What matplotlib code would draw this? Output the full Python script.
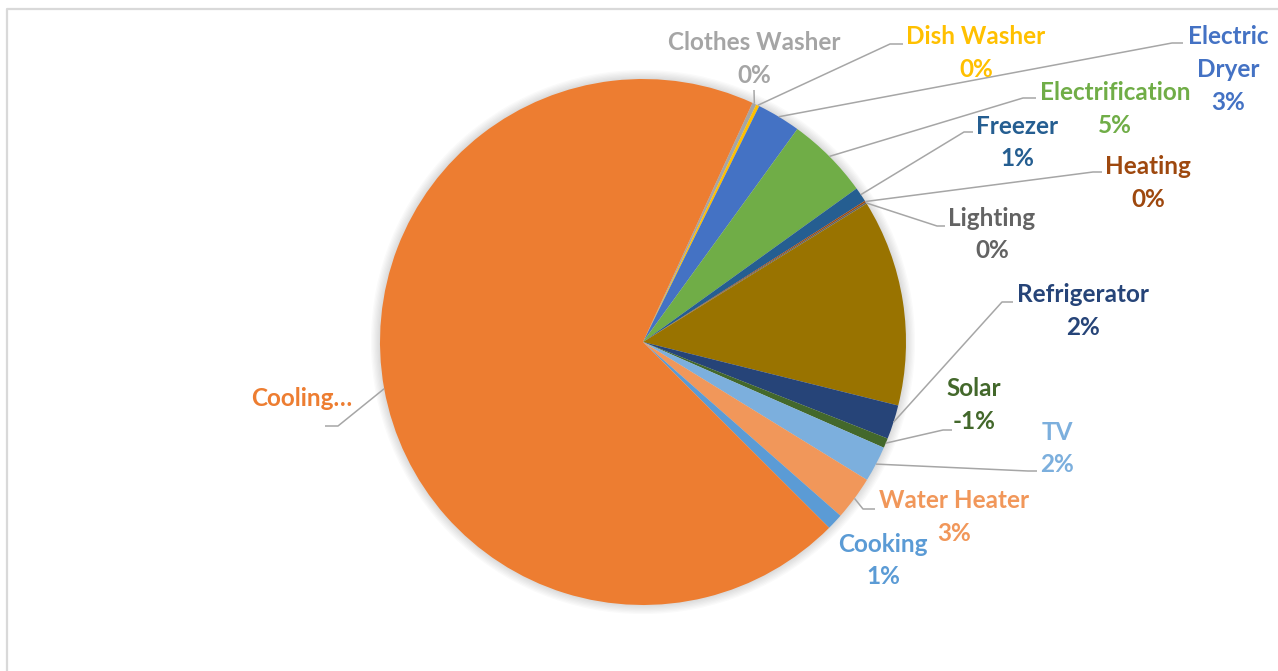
import matplotlib
matplotlib.use('Agg')
import matplotlib.pyplot as plt
from matplotlib.patches import Circle
import numpy as np

plt.rcParams['font.family'] = ['Lato', 'DejaVu Sans']

# appliance shares of the load (%); the olive slice has no label in the source
categories = ['Clothes Washer', 'Dish Washer', 'Electric Dryer', 'Electrification', 'Freezer',
              'Heating', 'Lighting', '', 'Refrigerator', 'Solar', 'TV', 'Water Heater',
              'Cooking', 'Cooling']
values = [0.25, 0.2, 2.7, 5.1, 0.9, 0.1, 0.1, 12.7, 2.1, -0.6, 2.2, 2.7, 1.0, 69.35]
slice_colors = ['#A5A5A5', '#FFC000', '#4472C4', '#70AD47', '#255E91', '#9E480E', '#636363',
                '#997300', '#264478', '#43682B', '#7CAFDD', '#F1975A', '#5B9BD5', '#ED7D31']
display_names = {'Electric Dryer': 'Electric\nDryer', 'Cooling': 'Cooling\u2026'}

W, H = 1278, 671
def Y(y):
    return H - y

# label layout in pixels (top-left origin): x centre, first line centre, leader elbow, leader end
layout = {
    'Clothes Washer': (754, 42, (754, 90), (754, 90)),
    'Dish Washer': (976, 36, (890, 44), (903, 44)),
    'Electric Dryer': (1228, 36, (1172, 43), (1183, 43)),
    'Electrification': (1115, 92, (1023, 98), (1036, 98)),
    'Freezer': (1017, 125, (964, 132), (973, 132)),
    'Heating': (1148, 166, (1093, 172), (1102, 172)),
    'Lighting': (992, 217, (937, 226), (945, 226)),
    'Refrigerator': (1083, 294, (1002, 302), (1013, 302)),
    'Solar': (974, 388, (943, 430), (952, 430)),
    'TV': (1057, 431, (1028, 471), (1037, 471)),
    'Water Heater': (954, 500, (863, 509), (875, 509)),
    'Cooking': (883, 543, None, None),
    'Cooling': (352, 398, (338, 426), (325, 426)),
}

fig = plt.figure(figsize=(W / 100, H / 100), dpi=100)
ax = fig.add_axes([0, 0, 1, 1])

cx, cy, R = 643, Y(342), 263
for k in range(1, 8):
    ax.add_patch(Circle((cx, cy), R + k * 1.3, color='black', alpha=0.018, lw=0, zorder=0))

wedges, _ = ax.pie(np.abs(values), colors=slice_colors, startangle=65.4, counterclock=False,
                   center=(cx, cy), radius=R, wedgeprops=dict(linewidth=0, zorder=2))
ax.set_xlim(0, W)
ax.set_ylim(0, H)
ax.axis('off')

total = np.sum(np.abs(values))
for w, name, v, col in zip(wedges, categories, values, slice_colors):
    if name not in layout:
        continue
    x, y0, elbow, end = layout[name]
    if name == 'Cooling':
        lines = [display_names[name]]
    else:
        lines = display_names.get(name, name).split('\n') + ['%.0f%%' % (v / total * 100)]
    for i, line in enumerate(lines):
        ha = 'right' if name == 'Cooling' else 'center'
        ax.text(x, Y(y0 + i * 32.5 + 8.5), line, ha=ha, va='baseline', fontsize=17.5,
                fontweight='bold', color=col, zorder=4)
    if elbow is not None:
        ang = np.deg2rad((w.theta1 + w.theta2) / 2)
        sx, sy = w.center[0] + w.r * np.cos(ang), w.center[1] + w.r * np.sin(ang)
        ax.plot([sx, elbow[0], end[0]], [sy, Y(elbow[1]), Y(end[1])], color='#A6A6A6',
                lw=1.1, zorder=3, solid_capstyle='butt')

# chart area border (only top and left edges show in the source)
ax.plot([7, 7, W], [0, Y(8.5), Y(8.5)], color='#D9D9D9', lw=1.6, zorder=1)

fig.savefig('out.png', dpi=100)
